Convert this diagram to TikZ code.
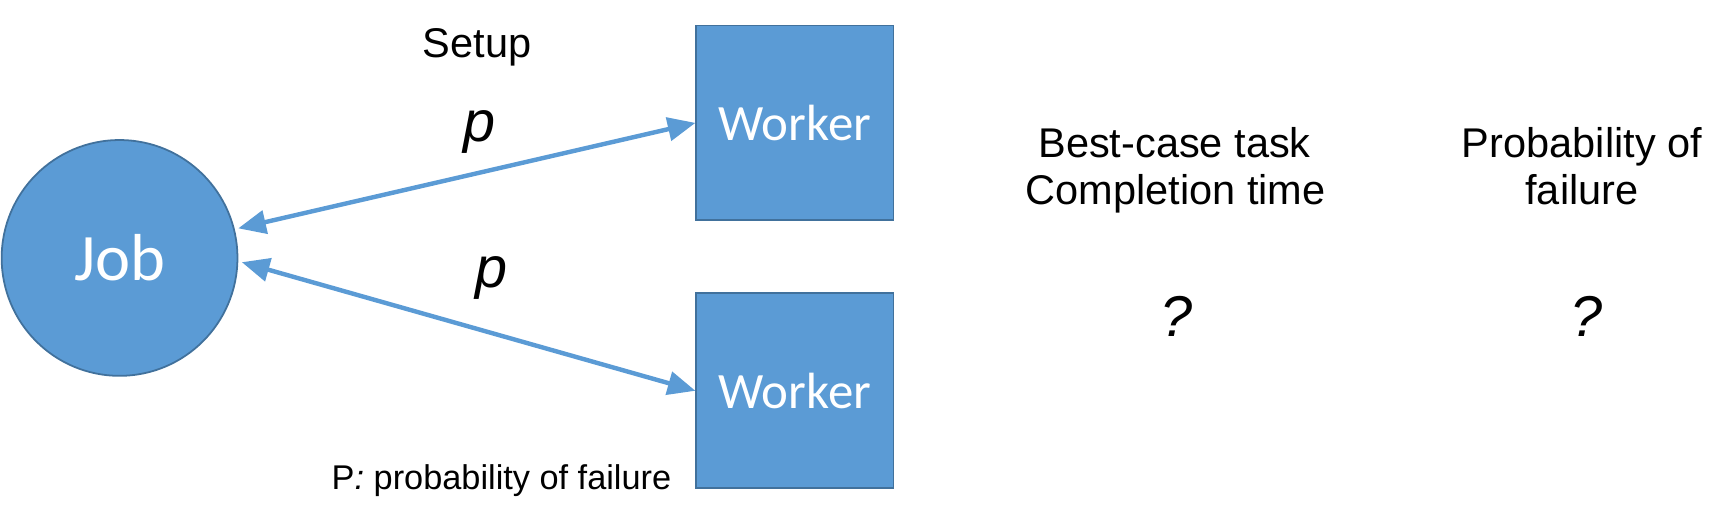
\documentclass[tikz,border=0pt]{standalone}
\usepackage{fontspec}
\setmainfont{Liberation Sans}
\newfontfamily\boxfont{Carlito}
\usetikzlibrary{arrows.meta}
\definecolor{accblue}{HTML}{5B9BD5}
\definecolor{edgeblue}{HTML}{41719C}
\begin{document}
\begin{tikzpicture}[x=0.5pt,y=-0.5pt,
  shapebox/.style={fill=accblue,draw=edgeblue,line width=0.8pt,text=white,inner sep=0pt},
  link/.style={draw=accblue,line width=2pt,{Triangle[length=12.5pt,width=10.5pt]}-{Triangle[length=12.5pt,width=10.5pt]}},
  lbl/.style={inner sep=0pt,anchor=base,font=\fontsize{18.75pt}{22pt}\selectfont},
  plbl/.style={inner sep=0pt,anchor=base,font=\fontsize{26pt}{30pt}\selectfont\itshape}
]
\useasboundingbox (0,0) rectangle (1560,470);
\node[shapebox,circle,minimum size=213pt/2,outer sep=2pt,font=\boxfont\fontsize{30pt}{34pt}\selectfont] (job) at (108,233) {Job};
\node[shapebox,rectangle,minimum width=89pt,minimum height=88pt,font=\boxfont\fontsize{23pt}{27pt}\selectfont] (w1) at (718,111) {Worker};
\node[shapebox,rectangle,minimum width=89pt,minimum height=88pt,font=\boxfont\fontsize{23pt}{27pt}\selectfont] (w2) at (718,353) {Worker};
\draw[link] (job.14) -- (w1.west);
\draw[link] (job.-2) -- (w2.west);
\node[lbl] (setup) at (431,52) {Setup};
\node[plbl] (p1) at (433,128) {p};
\node[plbl] (p2) at (444,260) {p};
\node[lbl] (bc1) at (1061,142) {Best-case task};
\node[lbl] (bc2) at (1062,185) {Completion time};
\node[lbl] (pf1) at (1429,142) {Probability of};
\node[lbl] (pf2) at (1429,185) {failure};
\node[plbl] (q1) at (1063,304) {?};
\node[plbl] (q2) at (1433,304) {?};
\node[lbl,font=\fontsize{15.5pt}{18pt}\selectfont] (note) at (453,442) {P\textit{:} probability of failure};
\end{tikzpicture}
\end{document}
